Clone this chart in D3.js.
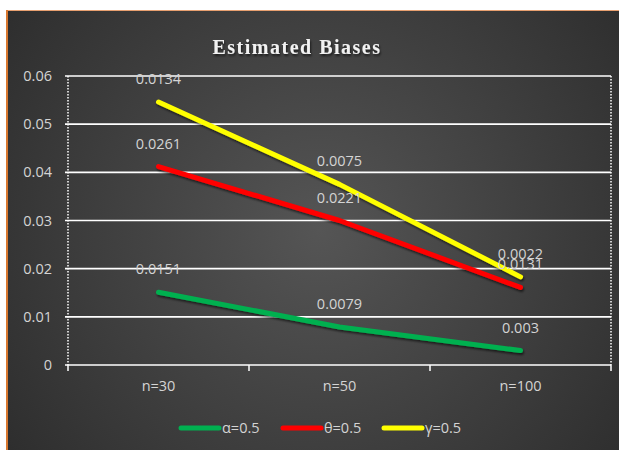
<!DOCTYPE html>
<html><head><meta charset="utf-8">
<script src="https://cdn.jsdelivr.net/npm/d3@7"></script>
<style>
html,body{margin:0;padding:0;background:#fff;}
svg{display:block;}
</style></head>
<body>
<svg id="c" width="619" height="450"></svg>
<script>
const categories = ["n=30", "n=50", "n=100"];
const seriesNames = ["α=0.5", "θ=0.5", "γ=0.5"];
const alphaVals = [0.0151, 0.0079, 0.003];
const thetaVals = [0.0261, 0.0221, 0.0131];
const gammaVals = [0.0134, 0.0075, 0.0022];
const yTicks = [0, 0.01, 0.02, 0.03, 0.04, 0.05, 0.06];
const yTickLabels = ["0", "0.01", "0.02", "0.03", "0.04", "0.05", "0.06"];
const colors = ["#00b050", "#ff0000", "#ffff00"];

(function(){
const svg = d3.select("#c");
const defs = svg.append("defs");
const rg = defs.append("radialGradient").attr("id","bg")
  .attr("gradientUnits","userSpaceOnUse").attr("cx",320).attr("cy",230).attr("r",420);
rg.append("stop").attr("offset","0%").attr("stop-color","#555555");
rg.append("stop").attr("offset","100%").attr("stop-color","#2a2a2a");
const f = defs.append("filter").attr("id","sh").attr("x","-20%").attr("y","-20%").attr("width","140%").attr("height","140%");
f.append("feDropShadow").attr("dx",1).attr("dy",2).attr("stdDeviation",1.2).attr("flood-color","#000").attr("flood-opacity",0.6);

// frame
svg.append("rect").attr("x",7).attr("y",10).attr("width",619).attr("height",450).attr("fill","url(#bg)");
svg.append("line").attr("x1",7).attr("x2",619).attr("y1",10.5).attr("y2",10.5).attr("stroke","#e8a070").attr("stroke-width",1);
svg.append("line").attr("x1",7).attr("x2",7).attr("y1",10).attr("y2",450).attr("stroke","#d9782f").attr("stroke-width",2);

// title
svg.append("text").attr("x",297).attr("y",54).attr("text-anchor","middle")
  .attr("font-family","'Liberation Serif','Times New Roman',serif").attr("font-weight","bold")
  .attr("font-size",20).attr("letter-spacing",1.5).attr("fill","#f2f2f2")
  .attr("filter","url(#sh)").text("Estimated Biases");

const pLeft = 68, pRight = 611, pTop = 76, pBottom = 365;
const x = d3.scaleBand().domain(categories).range([pLeft, pRight]);
const y = d3.scaleLinear().domain([0, 0.06]).range([pBottom, pTop]);

// gridlines
svg.append("g").selectAll("line").data(yTicks).join("line")
  .attr("x1",pLeft-3).attr("x2",pRight).attr("y1",d=>y(d)).attr("y2",d=>y(d))
  .attr("stroke","#fff").attr("stroke-width",1.6);

// dotted verticals
[pLeft, pRight].forEach(xx=>{
  svg.append("line").attr("x1",xx).attr("x2",xx).attr("y1",pTop).attr("y2",pBottom)
    .attr("stroke","#fff").attr("stroke-width",1.5).attr("stroke-dasharray","1.5,1.5");
});
// x ticks
const xb = categories.map(c=>x(c)).concat([pRight]);
svg.append("g").selectAll("line").data(xb).join("line")
  .attr("x1",d=>d).attr("x2",d=>d).attr("y1",pBottom).attr("y2",pBottom+6)
  .attr("stroke","#fff").attr("stroke-width",1.5);

const font = "'Open Sans','Noto Sans',sans-serif";
const fs = 14.5;
const tc = "#d4d4d4";
// y labels
const yAxis = d3.axisLeft(y).tickValues(yTicks).tickFormat((d,i)=>yTickLabels[i]).tickSize(0).tickPadding(16);
const ya = svg.append("g").attr("transform",`translate(${pLeft},0)`).call(yAxis);
ya.select(".domain").remove();
ya.selectAll("text").attr("font-family",font).attr("font-size",fs).attr("fill",tc);

// x labels
const xAxis = d3.axisBottom(x).tickSize(0).tickPadding(16);
const xa = svg.append("g").attr("transform",`translate(0,${pBottom})`).call(xAxis);
xa.select(".domain").remove();
xa.selectAll("text").attr("font-family",font).attr("font-size",fs).attr("fill",tc);

// stacked data
const rows = categories.map((c,i)=>({cat:c, a:alphaVals[i], t:thetaVals[i], g:gammaVals[i]}));
const keys = ["a","t","g"];
const stacked = d3.stack().keys(keys)(rows);
const cx = c => x(c) + x.bandwidth()/2;
const line = d3.line().x(d=>cx(d.data.cat)).y(d=>y(d[1]));

svg.append("g").selectAll("path").data(stacked).join("path")
  .attr("d", line).attr("fill","none").attr("stroke",(d,i)=>colors[i])
  .attr("stroke-width",5).attr("stroke-linecap","round").attr("stroke-linejoin","round")
  .attr("filter","url(#sh)");

// data labels
stacked.forEach((s,si)=>{
  svg.append("g").selectAll("text").data(s).join("text")
    .attr("x",d=>cx(d.data.cat)).attr("y",d=>y(d[1])-18)
    .attr("text-anchor","middle").attr("font-family",font).attr("font-size",fs)
    .attr("fill",tc).text(d=>d.data[keys[si]]);
});

// legend
const legX = [179, 281, 382];
const lg = svg.append("g");
seriesNames.forEach((n,i)=>{
  lg.append("line").attr("x1",legX[i]+2).attr("x2",legX[i]+40).attr("y1",428).attr("y2",428)
    .attr("stroke",colors[i]).attr("stroke-width",5).attr("stroke-linecap","round");
  lg.append("text").attr("x",legX[i]+43).attr("y",433).attr("font-family",font).attr("font-size",fs)
    .attr("fill",tc).text(n);
});
})();
</script>
</body></html>
